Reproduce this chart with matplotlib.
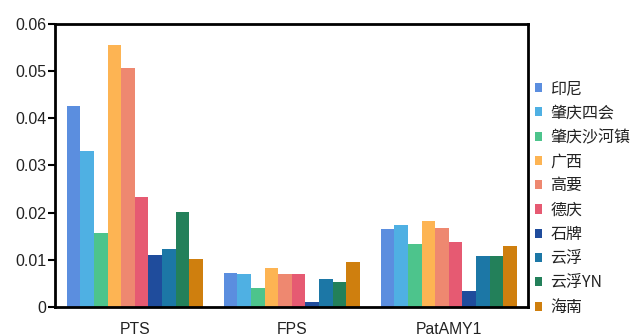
import numpy as np
import matplotlib
matplotlib.use('Agg')
import matplotlib.pyplot as plt

plt.rcParams['font.family'] = ['Liberation Sans', 'Noto Sans CJK SC', 'DejaVu Sans']

# 数据
genes = ['PTS', 'FPS', 'PatAMY1']
origens = ['印尼', '肇庆四会', '肇庆沙河镇', '广西', '高要', '德庆', '石牌', '云浮', '云浮YN', '海南']
pts = [0.0426, 0.0330, 0.0156, 0.0555, 0.0506, 0.0233, 0.0111, 0.0124, 0.0201, 0.0102]
fps = [0.0072, 0.0070, 0.0040, 0.0083, 0.0070, 0.0070, 0.0011, 0.0060, 0.0053, 0.0095]
patamy1 = [0.0165, 0.0174, 0.0133, 0.0182, 0.0168, 0.0137, 0.0034, 0.0108, 0.0108, 0.0130]
cores = ['#5B8EDF', '#4FB0E3', '#4DC48C', '#FDB453', '#EE8870', '#E65A72',
         '#1F4C9C', '#1C77A6', '#23805A', '#CF7F0E']

valores = np.array([pts, fps, patamy1])

fig = plt.figure(figsize=(6.34, 3.36), dpi=100)
ax = fig.add_axes([0.0868, 0.0863, 0.7462, 0.8423])

x = np.arange(len(genes))
largura = 0.0866
n = len(origens)
for i, nome in enumerate(origens):
    desloc = (i - (n - 1) / 2) * largura
    ax.bar(x + desloc, valores[:, i], largura, color=cores[i], label=nome, linewidth=0)

ax.set_xlim(-0.508, 2.505)
ax.set_ylim(0, 0.06)
ax.set_yticks([0, 0.01, 0.02, 0.03, 0.04, 0.05, 0.06])
ax.set_yticklabels(['0', '0.01', '0.02', '0.03', '0.04', '0.05', '0.06'], fontsize=11.5, color='#222222')
ax.set_xticks(x)
ax.set_xticklabels(genes, fontsize=11.3, color='#222222')
ax.tick_params(axis='x', length=0, pad=11)
ax.tick_params(axis='y', length=5, width=1.5, pad=1)
for s in ax.spines.values():
    s.set_linewidth(2)

leg = ax.legend(loc='center left', bbox_to_anchor=(1.0, 0.385), frameon=False,
                handlelength=0.5, handleheight=0.5, handletextpad=0.5,
                labelspacing=0.455, borderaxespad=0,
                prop={'family': ['Noto Sans CJK SC', 'DejaVu Sans'], 'size': 11.5})
for t in leg.get_texts():
    t.set_color('#222222')

fig.savefig('out.png', dpi=100)
